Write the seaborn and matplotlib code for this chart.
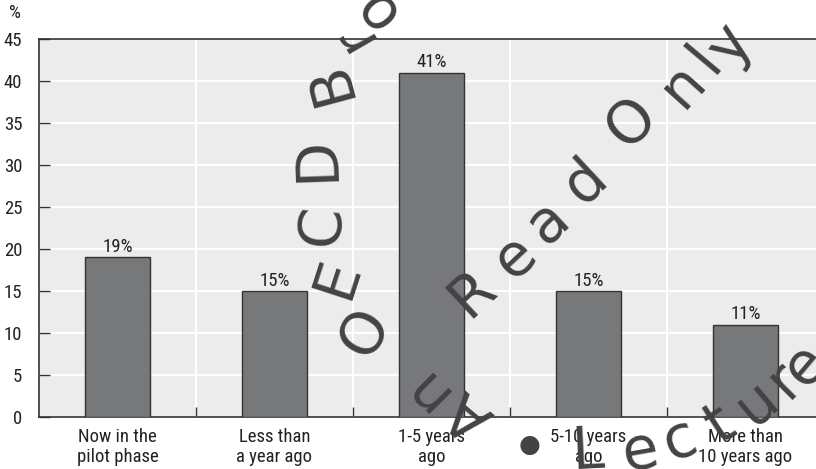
import matplotlib
matplotlib.use("Agg")
import matplotlib.pyplot as plt
from matplotlib import font_manager
import seaborn as sns
import pandas as pd

categories = ["Now in the\npilot phase", "Less than\na year ago", "1-5 years\nago",
              "5-10 years\nago", "More than\n10 years ago"]
values = [19, 15, 41, 15, 11]
yticks = [0, 5, 10, 15, 20, 25, 30, 35, 40, 45]

sns.set_theme(style="white")

def pick(fams):
    for f in fams:
        try:
            font_manager.findfont(f, fallback_to_default=False)
            return f
        except Exception:
            pass
    return "DejaVu Sans"

narrow = pick(["Liberation Sans Narrow", "Roboto Condensed", "Liberation Sans"])
plt.rcParams['font.family'] = [narrow, 'DejaVu Sans']

FS = 13.5
W, H = 816, 469
fig = plt.figure(figsize=(W / 100, H / 100), dpi=100)
ax = fig.add_axes([39 / W, (H - 417) / H, (824 - 39) / W, (417 - 39) / H])
ax.set_facecolor("#ececec")

df = pd.DataFrame({"cat": categories, "val": values})
sns.barplot(data=df, x="cat", y="val", color="#77787a", saturation=1,
            edgecolor="#333333", linewidth=1.0, width=0.41, ax=ax, zorder=3)

ax.set_xlim(-0.5, len(categories) - 0.5)
ax.set_ylim(0, 45)
ax.set_yticks(yticks)
ax.set_xlabel("")
ax.set_ylabel("")

# grid
ax.set_xticks([i + 0.5 for i in range(len(categories) - 1)], minor=True)
ax.grid(axis="y", which="major", color="white", linewidth=1.4, zorder=0)
ax.grid(axis="x", which="minor", color="white", linewidth=1.4, zorder=0)
ax.set_axisbelow(True)

ax.tick_params(axis="y", which="major", direction="in", length=8, width=1,
               color="#333333", labelsize=FS, labelcolor="#222222", pad=12, left=True)
ax.tick_params(axis="x", which="major", length=0, labelsize=FS,
               labelcolor="#222222", pad=8)
ax.tick_params(axis="x", which="minor", direction="in", length=7.5, width=1,
               color="#333333", bottom=True)
for lab in ax.get_xticklabels():
    lab.set_linespacing(1.1)

for s in ["left", "bottom", "top"]:
    ax.spines[s].set_visible(True)
    ax.spines[s].set_color("#333333")
    ax.spines[s].set_linewidth(1.2)
ax.spines["right"].set_visible(False)

for c in ax.containers:
    ax.bar_label(c, labels=[f"{v}%" for v in values], padding=1,
                 fontsize=FS, color="#222222")

fig.text(15 / W, 1 - 13 / H, "%", ha="center", va="center", fontsize=FS, color="#222222")

# watermark
wm = [
    ("O", 365, 332, 60), ("E", 337, 278, 72), ("C", 322, 225, 85), ("D", 317, 159, 92),
    ("B", 330, 82, 105), ("r", 352, 35, 120), ("o", 375, 9, 130),
    ("R", 472, 293, 43), ("e", 515, 257, 43), ("a", 548, 222, 43), ("d", 585, 182, 43),
    ("O", 632, 122, 45), ("n", 683, 85, 48), ("l", 705, 58, 50), ("y", 730, 45, 55),
    ("A", 470, 414, 140), ("n", 423, 389, 135),
    ("L", 588, 452, 3), ("e", 640, 452, 10), ("c", 680, 440, 20), ("t", 720, 425, 33),
    ("u", 757, 403, 40), ("r", 785, 380, 45), ("e", 805, 365, 50),
]
for ch, x, y, r in wm:
    fig.text(x / W, 1 - y / H, ch, ha="center", va="center", rotation=r,
             rotation_mode="anchor", fontsize=42, color="#444244",
             family=["DejaVu Sans"], zorder=10)
fig.text(530 / W, 1 - 445 / H, "\u25CF", ha="center", va="center", fontsize=18,
         color="#444244", family=["DejaVu Sans"], zorder=10)

fig.savefig("out.png", dpi=100)
